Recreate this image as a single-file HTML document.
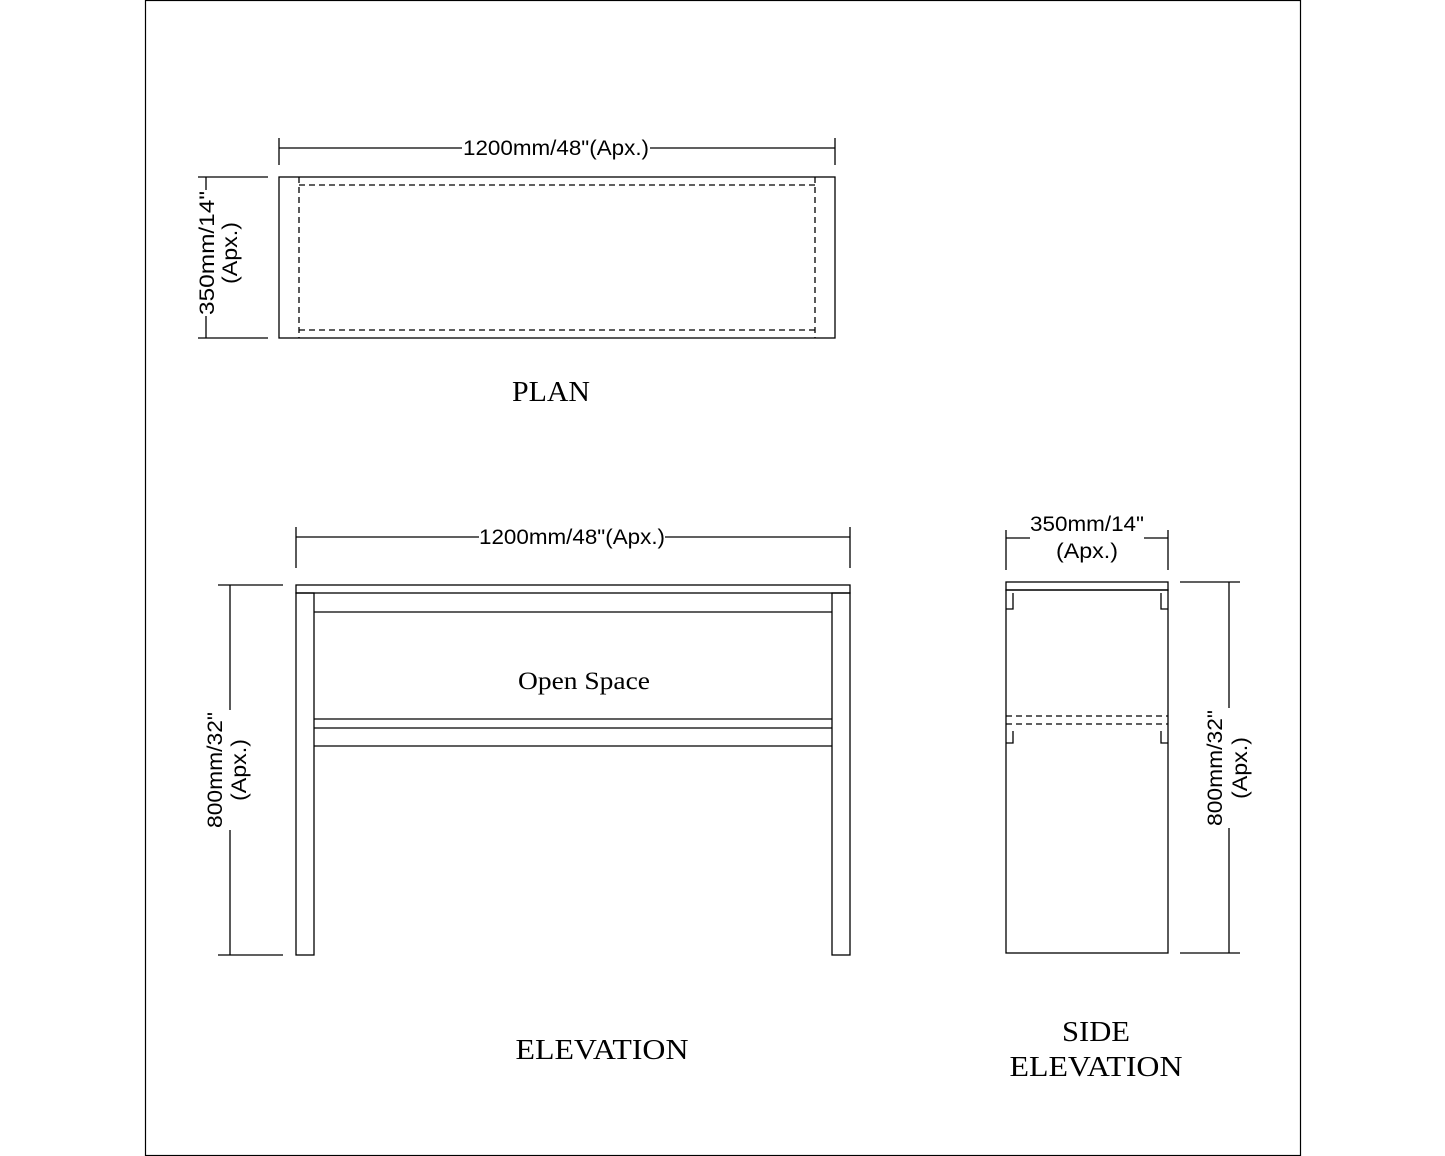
<!DOCTYPE html>
<html><head><style>body{margin:0;background:#fff}svg{display:block}</style></head><body>
<svg width="1445" height="1156" viewBox="0 0 1445 1156" xmlns="http://www.w3.org/2000/svg">
<rect x="145.5" y="0.5" width="1155" height="1155" fill="none" stroke="#000" stroke-width="1.2"/>
<g stroke="#000" stroke-width="1.3" fill="none">
<!-- PLAN -->
<rect x="279" y="177" width="556" height="161"/>
<g stroke-dasharray="6,4"><line x1="299" y1="185" x2="815" y2="185"/><line x1="299" y1="330" x2="815" y2="330"/><line x1="299" y1="177" x2="299" y2="338"/><line x1="815" y1="177" x2="815" y2="338"/></g>
<line x1="279" y1="148" x2="462" y2="148"/><line x1="650" y1="148" x2="835" y2="148"/>
<line x1="279" y1="138" x2="279" y2="165"/><line x1="835" y1="138" x2="835" y2="165"/>
<line x1="206" y1="177" x2="206" y2="190"/><line x1="206" y1="316" x2="206" y2="338"/>
<line x1="198" y1="177" x2="268" y2="177"/><line x1="198" y1="338" x2="268" y2="338"/>
<!-- ELEVATION -->
<rect x="296" y="585" width="554" height="8"/>
<rect x="296" y="593" width="18" height="362"/><rect x="832" y="593" width="18" height="362"/>
<line x1="314" y1="612" x2="832" y2="612"/>
<line x1="314" y1="719" x2="832" y2="719"/><line x1="314" y1="728" x2="832" y2="728"/><line x1="314" y1="746" x2="832" y2="746"/>
<line x1="296" y1="537" x2="479" y2="537"/><line x1="665" y1="537" x2="850" y2="537"/>
<line x1="296" y1="527" x2="296" y2="568"/><line x1="850" y1="527" x2="850" y2="568"/>
<line x1="230" y1="585" x2="230" y2="710"/><line x1="230" y1="830" x2="230" y2="955"/>
<line x1="218" y1="585" x2="283" y2="585"/><line x1="218" y1="955" x2="283" y2="955"/>
<!-- SIDE -->
<rect x="1006" y="582" width="162" height="8"/>
<rect x="1006" y="590" width="162" height="363"/>
<g stroke-dasharray="6,4"><line x1="1006" y1="716" x2="1168" y2="716"/><line x1="1006" y1="724" x2="1168" y2="724"/></g>
<polyline points="1013,593 1013,609 1006,609"/><polyline points="1161,593 1161,609 1168,609"/>
<polyline points="1013,731 1013,743 1006,743"/><polyline points="1161,731 1161,743 1168,743"/>
<line x1="1006" y1="538" x2="1030" y2="538"/><line x1="1144" y1="538" x2="1168" y2="538"/>
<line x1="1006" y1="530" x2="1006" y2="570"/><line x1="1168" y1="530" x2="1168" y2="570"/>
<line x1="1229" y1="582" x2="1229" y2="708"/><line x1="1229" y1="828" x2="1229" y2="953"/>
<line x1="1180" y1="582" x2="1240" y2="582"/><line x1="1180" y1="953" x2="1240" y2="953"/>
</g>
<g font-family="Liberation Sans, sans-serif" font-size="21" text-anchor="middle" fill="#000" lengthAdjust="spacingAndGlyphs">
<text x="556" y="155" textLength="186" lengthAdjust="spacingAndGlyphs">1200mm/48"(Apx.)</text>
<text x="572" y="544" textLength="186" lengthAdjust="spacingAndGlyphs">1200mm/48"(Apx.)</text>
<text x="1087" y="531" textLength="114" lengthAdjust="spacingAndGlyphs">350mm/14"</text>
<text x="1087" y="558" textLength="62" lengthAdjust="spacingAndGlyphs">(Apx.)</text>
<text transform="translate(207,253) rotate(-90)" dy="7" textLength="124" lengthAdjust="spacingAndGlyphs">350mm/14"</text>
<text transform="translate(230,253) rotate(-90)" dy="7" textLength="62" lengthAdjust="spacingAndGlyphs">(Apx.)</text>
<text transform="translate(215,770) rotate(-90)" dy="7" textLength="116" lengthAdjust="spacingAndGlyphs">800mm/32"</text>
<text transform="translate(239,770) rotate(-90)" dy="7" textLength="62" lengthAdjust="spacingAndGlyphs">(Apx.)</text>
<text transform="translate(1215,768) rotate(-90)" dy="7" textLength="116" lengthAdjust="spacingAndGlyphs">800mm/32"</text>
<text transform="translate(1240,768) rotate(-90)" dy="7" textLength="62" lengthAdjust="spacingAndGlyphs">(Apx.)</text>
</g>
<g font-family="Liberation Serif, serif" text-anchor="middle" fill="#000">
<text x="551" y="401" font-size="28" textLength="78" lengthAdjust="spacingAndGlyphs">PLAN</text>
<text x="584" y="689" font-size="25" textLength="132" lengthAdjust="spacingAndGlyphs">Open Space</text>
<text x="602" y="1059" font-size="28" textLength="173" lengthAdjust="spacingAndGlyphs">ELEVATION</text>
<text x="1096" y="1041" font-size="28" textLength="68" lengthAdjust="spacingAndGlyphs">SIDE</text>
<text x="1096" y="1076" font-size="28" textLength="173" lengthAdjust="spacingAndGlyphs">ELEVATION</text>
</g>
</svg>
</body></html>
